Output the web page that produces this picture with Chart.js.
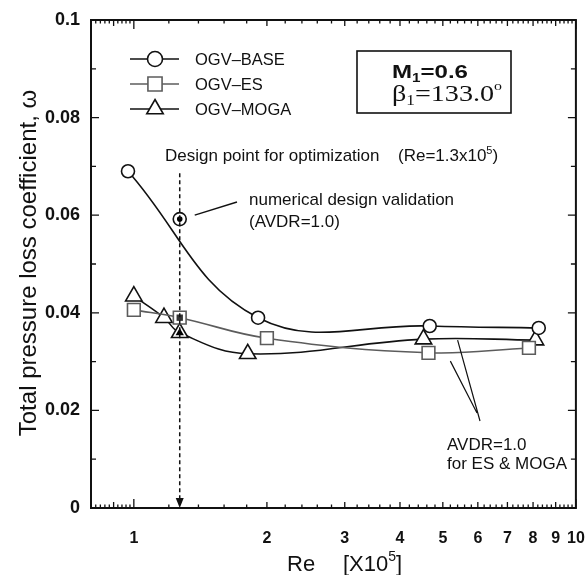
<!DOCTYPE html>
<html>
<head>
<meta charset="utf-8">
<script src="https://cdn.jsdelivr.net/npm/chart.js@4.4.0/dist/chart.umd.min.js"></script>
<style>
  html, body { margin: 0; padding: 0; background: #fff; }
  #wrap { width: 587px; height: 575px; }
</style>
</head>
<body>
<div id="wrap"><canvas id="chart-loss"></canvas></div>
<script>
// Re [x10^5] and total pressure loss coefficient for each OGV
const reBase = [0.97, 1.91, 4.67, 8.24];
const lossBase = [0.069, 0.039, 0.0373, 0.0369];
const reEs = [1.0, 1.27, 2.0, 4.64, 7.83];
const lossEs = [0.0406, 0.039, 0.0348, 0.0318, 0.0328];
const reMoga = [1.0, 1.17, 1.27, 1.81, 4.52, 8.1];
const lossMoga = [0.0434, 0.039, 0.0359, 0.0316, 0.0346, 0.0344];

// design point, numerical validation of the base blade (AVDR=1.0)
const reDesign = 1.27;
const lossDesignBase = 0.0592;

const xTicks = [1, 2, 3, 4, 5, 6, 7, 8, 9, 10];
const yTicks = [0, 0.02, 0.04, 0.06, 0.08, 0.1];

const INK = '#111';
const GREY = '#5c5c5c';
const SANS = '"Liberation Sans", Arial, sans-serif';
const SERIF = '"Liberation Serif", "Times New Roman", serif';

function pts(xs, ys) {
    return xs.map((v, i) => ({ x: v, y: ys[i] }));
}

// filled centres of the validated design points
const designMarks = [
    { x: reDesign, y: lossDesignBase },
    { x: reDesign, y: lossEs[reEs.indexOf(reDesign)] },
    { x: reDesign, y: lossMoga[reMoga.indexOf(reDesign)] }
];

// text with super/subscripts: parts = [text, font, dy]
function runText(ctx, parts, x, y) {
    for (const [t, f, dy] of parts) {
        ctx.font = f;
        ctx.fillText(t, x, y + dy);
        x += ctx.measureText(t).width;
    }
}

// same, stretched sideways to a given width
function runTextWide(ctx, parts, x, y, width) {
    let w = 0;
    for (const [t, f] of parts) { ctx.font = f; w += ctx.measureText(t).width; }
    ctx.save();
    ctx.translate(x, y);
    ctx.scale(width / w, 1);
    runText(ctx, parts, 0, 0);
    ctx.restore();
}

const decor = {
    id: 'decor',
    afterDraw(chart) {
        const { ctx, chartArea: a, scales } = chart;
        const xs = scales.x, ys = scales.y;
        ctx.save();
        ctx.strokeStyle = INK;
        ctx.fillStyle = INK;

        // frame
        ctx.lineWidth = 2;
        ctx.strokeRect(a.left, a.top, a.right - a.left, a.bottom - a.top);

        // inward ticks, log axis top and bottom
        ctx.lineWidth = 1.3;
        ctx.beginPath();
        const xt = [];
        for (let i = 40; i <= 50; i++) xt.push(i / 50);
        for (let i = 6; i <= 50; i++) xt.push(i / 5);
        for (const v of xt) {
            const px = xs.getPixelForValue(v);
            let len = 3.5;
            if (Math.abs(v - Math.round(v)) < 1e-6 || Math.abs(v - 0.9) < 1e-6) len = 6;
            if (v === 1 || v === 10) len = 9;
            ctx.moveTo(px, a.bottom); ctx.lineTo(px, a.bottom - len);
            ctx.moveTo(px, a.top); ctx.lineTo(px, a.top + len);
        }
        // linear axis left and right
        for (let i = 0; i <= 10; i++) {
            const py = ys.getPixelForValue(i / 100);
            const len = i % 2 === 0 ? 8 : 5;
            ctx.moveTo(a.left, py); ctx.lineTo(a.left + len, py);
            ctx.moveTo(a.right, py); ctx.lineTo(a.right - len, py);
        }
        ctx.stroke();

        // design point arrow
        const dx = xs.getPixelForValue(reDesign);
        const dTop = ys.getPixelForValue(0.0686);
        ctx.lineWidth = 1.5;
        ctx.setLineDash([4, 3]);
        ctx.beginPath();
        ctx.moveTo(dx, dTop); ctx.lineTo(dx, a.bottom - 8);
        ctx.stroke();
        ctx.setLineDash([]);
        ctx.beginPath();
        ctx.moveTo(dx - 4, a.bottom - 10);
        ctx.lineTo(dx + 4, a.bottom - 10);
        ctx.lineTo(dx, a.bottom);
        ctx.closePath();
        ctx.fill();

        ctx.textBaseline = 'alphabetic';
        ctx.textAlign = 'left';

        // design point caption
        runText(ctx, [
            ['Design point for optimization', '17px ' + SANS, 0]
        ], 165, 161);
        runText(ctx, [
            ['(Re=1.3x10', '17px ' + SANS, 0],
            ['5', '11px ' + SANS, -7],
            [')', '17px ' + SANS, 0]
        ], 398, 161);

        // validation note and its pointer
        const bx = xs.getPixelForValue(reDesign);
        const by = ys.getPixelForValue(lossDesignBase);
        ctx.lineWidth = 1.5;
        ctx.beginPath();
        ctx.moveTo(bx + 15, by - 4);
        ctx.lineTo(237, 202);
        ctx.stroke();
        ctx.font = '17px ' + SANS;
        ctx.fillText('numerical design validation', 249, 205);
        ctx.fillText('(AVDR=1.0)', 249, 227);

        // AVDR note for ES & MOGA with two pointers
        ctx.lineWidth = 1.2;
        ctx.beginPath();
        ctx.moveTo(480, 421);
        ctx.lineTo(xs.getPixelForValue(5.4), ys.getPixelForValue(0.0344));
        ctx.moveTo(477, 413);
        ctx.lineTo(xs.getPixelForValue(5.2), ys.getPixelForValue(0.0301));
        ctx.stroke();
        ctx.font = '17px ' + SANS;
        ctx.fillText('AVDR=1.0', 447, 450);
        ctx.fillText('for ES & MOGA', 447, 469);

        // inlet condition box
        ctx.lineWidth = 1.6;
        ctx.strokeRect(357, 51, 154, 62);
        runTextWide(ctx, [
            ['M', 'bold 19px ' + SANS, 0],
            ['1', 'bold 12px ' + SANS, 4],
            ['=0.6', 'bold 19px ' + SANS, 0]
        ], 392, 78, 76);
        runTextWide(ctx, [
            ['\u03b2', '23px ' + SERIF, 0],
            ['1', '14px ' + SERIF, 4],
            ['=133.0', '23px ' + SERIF, 0],
            ['o', '13px ' + SERIF, -11]
        ], 392, 101, 110);

        // legend
        const legend = [
            ['OGV\u2013BASE', INK, 'circle', 7.5],
            ['OGV\u2013ES', GREY, 'rect', 10],
            ['OGV\u2013MOGA', INK, 'triangle', 9.5]
        ];
        legend.forEach(([label, col, style, r], i) => {
            const ly = 59 + i * 25;
            ctx.strokeStyle = col;
            ctx.lineWidth = 1.6;
            ctx.beginPath();
            ctx.moveTo(130, ly); ctx.lineTo(179, ly);
            ctx.stroke();
            ctx.fillStyle = '#fff';
            Chart.helpers.drawPoint(ctx, { pointStyle: style, radius: r, borderWidth: 1.6, rotation: 0 }, 155, ly);
            ctx.fillStyle = INK;
            ctx.font = '16.5px ' + SANS;
            ctx.textBaseline = 'middle';
            ctx.fillText(label, 195, ly + 1);
        });

        // axis titles
        ctx.textBaseline = 'alphabetic';
        ctx.font = '22px ' + SANS;
        ctx.fillText('Re', 287, 571);
        runText(ctx, [
            ['[X10', '22px ' + SANS, 0],
            ['5', '14px ' + SANS, -10],
            [']', '22px ' + SANS, 0]
        ], 343, 571);

        ctx.translate(36, 263);
        ctx.rotate(-Math.PI / 2);
        ctx.textAlign = 'center';
        ctx.font = '24px ' + SANS;
        ctx.fillText('Total pressure loss coefficient, \u03c9', 0, 0);
        ctx.restore();
    }
};

const lineBase = {
    borderWidth: 1.6,
    tension: 0.4,
    pointBackgroundColor: '#fff',
    pointBorderWidth: 1.6
};

new Chart(document.getElementById('chart-loss'), {
    type: 'line',
    data: {
        datasets: [
            {
                ...lineBase,
                label: 'OGV-BASE',
                data: pts(reBase, lossBase),
                borderColor: INK,
                pointBorderColor: INK,
                pointStyle: 'circle',
                pointRadius: 6.5
            },
            {
                ...lineBase,
                label: 'OGV-ES',
                data: pts(reEs, lossEs),
                borderColor: GREY,
                pointBorderColor: GREY,
                pointStyle: 'rect',
                pointRadius: 9
            },
            {
                ...lineBase,
                label: 'OGV-MOGA',
                data: pts(reMoga, lossMoga),
                borderColor: INK,
                pointBorderColor: INK,
                pointStyle: 'triangle',
                pointRadius: 9.5
            },
            {
                label: 'BASE design',
                data: [{ x: reDesign, y: lossDesignBase }],
                showLine: false,
                pointStyle: 'circle',
                pointRadius: 6.5,
                pointBorderWidth: 1.6,
                pointBorderColor: INK,
                pointBackgroundColor: '#fff',
                order: -1
            },
            {
                label: 'validation',
                data: designMarks,
                showLine: false,
                pointStyle: ['circle', 'rect', 'triangle'],
                pointRadius: [2.8, 4.5, 4.8],
                pointBorderWidth: 0,
                pointBackgroundColor: ['#000', '#333', '#000'],
                order: -2
            }
        ]
    },
    options: {
        responsive: true,
        maintainAspectRatio: false,
        animation: false,
        events: [],
        layout: { padding: { top: 20, right: 8, left: 0, bottom: 0 } },
        plugins: {
            legend: { display: false },
            tooltip: { enabled: false }
        },
        scales: {
            x: {
                type: 'logarithmic',
                min: 0.8,
                max: 10,
                grid: { display: false, drawTicks: false },
                border: { display: false },
                afterBuildTicks: (s) => { s.ticks = xTicks.map(v => ({ value: v })); },
                afterFit: (s) => { s.height = 67; s.paddingLeft = 0; s.paddingRight = 0; },
                ticks: {
                    autoSkip: false,
                    maxRotation: 0,
                    padding: 21,
                    color: INK,
                    font: { family: SANS, size: 16, weight: 'bold' },
                    callback: (v) => String(v)
                }
            },
            y: {
                type: 'linear',
                min: 0,
                max: 0.1,
                grid: { display: false, drawTicks: false },
                border: { display: false },
                afterBuildTicks: (s) => { s.ticks = yTicks.map(v => ({ value: v })); },
                afterFit: (s) => { s.width = 91; s.paddingTop = 0; s.paddingBottom = 0; },
                ticks: {
                    padding: 11,
                    color: INK,
                    font: { family: SANS, size: 18, weight: 'bold' },
                    callback: (v) => String(Number(v.toFixed(2)))
                }
            }
        }
    },
    plugins: [decor]
});
</script>
</body>
</html>
